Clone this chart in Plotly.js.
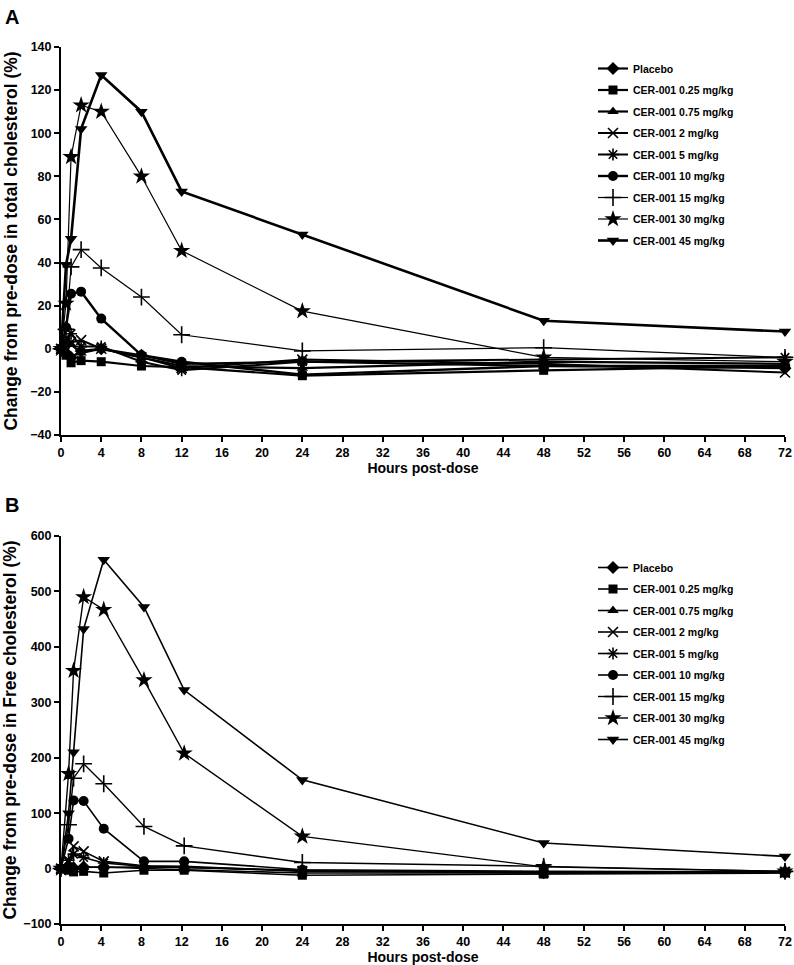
<!DOCTYPE html>
<html>
<head>
<meta charset="utf-8">
<script src="https://cdn.plot.ly/plotly-3.0.1.min.js"></script>
<style>html,body{margin:0;padding:0;background:#fff;}#chart{width:794px;height:965px;}</style>
</head>
<body>
<div id="chart"></div>
<script>
// ---- data ----
const hoursA = [0, 0.5, 1, 2, 4, 8, 12, 24, 48, 72];
const hoursB = [0, 0.75, 1.25, 2.25, 4.25, 8.25, 12.25, 24, 48, 72];
const seriesNames = ["Placebo", "CER-001 0.25 mg/kg", "CER-001 0.75 mg/kg", "CER-001 2 mg/kg",
  "CER-001 5 mg/kg", "CER-001 10 mg/kg", "CER-001 15 mg/kg", "CER-001 30 mg/kg", "CER-001 45 mg/kg"];

// Panel A: change in total cholesterol (%)
const placeboA = [0, -2, -4, -1, 0, -3, -7, -6, -8, -9];
const dose025A = [0, -3, -6.5, -5.5, -6, -8, -8.5, -12.5, -10, -8];
const dose075A = [0, -1, 2, -2, 0, -4, -8, -9, -6, -7];
const dose2A   = [0, 5, 3, 4, 0, -4, -9, -5, -7, -11];
const dose5A   = [0, 3, 7, 1, 1, -6, -10, -6, -5, -4];
const dose10A  = [0, 10, 25.5, 26.5, 14, -3, -6, -12, -8, -8];
const dose15A  = [0, 9, 38, 46, 37.5, 24, 6.5, -1, 0.5, -4];
const dose30A  = [0, 21, 89, 113, 110, 80, 45.5, 17.5, -4, -6];
const dose45A  = [0, 39, 51, 102, 127, 110, 73, 53, 13, 8];

// Panel B: change in free cholesterol (%)
const placeboB = [0, 2, 0, 3, 2, 3, 2, -4, -6, -7];
const dose025B = [0, -3, -6, -5, -8, -3, -3, -12, -10, -8];
const dose075B = [0, 3, 5, 2, 3, 0, -2, -8, -8, -6];
const dose2B   = [0, 12, 40, 31, 13, 5, 4, -5, -7, -6];
const dose5B   = [0, 15, 26, 20, 10, 4, 2, -3, -8, -5];
const dose10B  = [0, 54, 123, 122, 72, 13, 13, -2, -5, -6];
const dose15B  = [0, 79, 163, 189, 153, 76, 41, 11, 4, -5];
const dose30B  = [0, 171, 357, 490, 467, 340, 208, 58, 3, -5];
const dose45B  = [0, 100, 210, 432, 557, 472, 322, 160, 46, 22];

const xTicks = [0,4,8,12,16,20,24,28,32,36,40,44,48,52,56,60,64,68,72];

// ---- styles ----
const symbols = ["diamond", "square", "triangle-up", "x-thin-open", "asterisk-open",
  "circle", "cross-thin-open", "star", "triangle-down"];
const msize = [10, 9, 10, 10, 10, 10, 12, 13, 11];
const lwA = [2.2, 2.2, 2.2, 2, 2, 2.4, 1.2, 1.2, 2.6];
const lwB = [1.6, 1.6, 1.6, 1.6, 1.6, 1.6, 1.4, 1.4, 1.6];

const dataA = [placeboA, dose025A, dose075A, dose2A, dose5A, dose10A, dose15A, dose30A, dose45A];
const dataB = [placeboB, dose025B, dose075B, dose2B, dose5B, dose10B, dose15B, dose30B, dose45B];

const traces = [];
function addPanel(hours, data, xa, ya, legendId, lw) {
  data.forEach((vals, i) => {
    const open = symbols[i].includes("open");
    traces.push({
      type: "scatter", mode: "lines+markers",
      x: hours, y: vals, name: seriesNames[i],
      xaxis: xa, yaxis: ya, legend: legendId,
      legendgroup: legendId + i,
      line: {color: "#000", width: lw[i]},
      marker: {symbol: symbols[i], size: msize[i], color: "#000",
               line: {color: "#000", width: open ? 1.6 : 0}},
      cliponaxis: false
    });
  });
}
addPanel(hoursA, dataA, "x", "y", "legend", lwA);
addPanel(hoursB, dataB, "x2", "y2", "legend2", lwB);

const H = 965;
const py = p => 1 - p / H;
const FAM = "Liberation Sans, Arial, sans-serif";
const tickFont = {family: "Liberation Sans Narrow, Arial Narrow, Liberation Sans, Arial, sans-serif", size: 12.5, color: "#000", weight: "bold"};
const titleFont = {family: FAM, size: 17.5, color: "#000", weight: "bold"};
const xTitleFont = {family: "Liberation Sans Narrow, Arial Narrow, Liberation Sans, Arial, sans-serif", size: 14, color: "#000", weight: "bold"};

function xAxis(anchor) {
  return {
    anchor: anchor, range: [0, 72], tickmode: "array", tickvals: xTicks,
    showgrid: false, zeroline: false, showline: true, linecolor: "#000", linewidth: 2,
    ticks: "outside", ticklen: 5, tickwidth: 2, tickcolor: "#000", tickfont: tickFont,
    title: {text: "Hours post-dose", font: xTitleFont, standoff: 3}
  };
}
function yAxis(anchor, range, dtick, domain, title) {
  return {
    anchor: anchor, range: range, dtick: dtick, domain: domain, tick0: 0,
    showgrid: false, zeroline: false, showline: true, linecolor: "#000", linewidth: 2,
    ticks: "outside", ticklen: 5, tickwidth: 2, tickcolor: "#000", tickfont: tickFont,
    title: {text: title, font: titleFont, standoff: 8}
  };
}
const legFont = {family: FAM, size: 10.5, color: "#000", weight: "bold"};

const layout = {
  width: 794, height: 965,
  margin: {l: 61, r: 9, t: 0, b: 0},
  paper_bgcolor: "#fff", plot_bgcolor: "#fff",
  xaxis: Object.assign(xAxis("y"), {domain: [0, 1]}),
  xaxis2: Object.assign(xAxis("y2"), {domain: [0, 1]}),
  yaxis: yAxis("x", [-40, 140], 20, [py(435), py(47)], "Change from pre-dose in total cholesterol (%)"),
  yaxis2: yAxis("x2", [-100, 600], 100, [py(924), py(536)], "Change from pre-dose in Free cholesterol (%)"),
  legend: {x: (593 - 61) / 724, xanchor: "left", y: py(54), yanchor: "top",
           font: legFont, bgcolor: "rgba(0,0,0,0)", tracegroupgap: 2.5, itemwidth: 30},
  legend2: {x: (593 - 61) / 724, xanchor: "left", y: py(553), yanchor: "top",
            font: legFont, bgcolor: "rgba(0,0,0,0)", tracegroupgap: 2.5, itemwidth: 30},
  showlegend: true,
  annotations: [
    {text: "A", xref: "paper", yref: "paper", x: -58 / 724, y: py(4), xanchor: "left", yanchor: "top",
     showarrow: false, font: {family: FAM, size: 20, color: "#000", weight: "bold"}},
    {text: "B", xref: "paper", yref: "paper", x: -58 / 724, y: py(492), xanchor: "left", yanchor: "top",
     showarrow: false, font: {family: FAM, size: 20, color: "#000", weight: "bold"}}
  ]
};

Plotly.newPlot("chart", traces, layout, {displayModeBar: false, staticPlot: true});
</script>
</body>
</html>
